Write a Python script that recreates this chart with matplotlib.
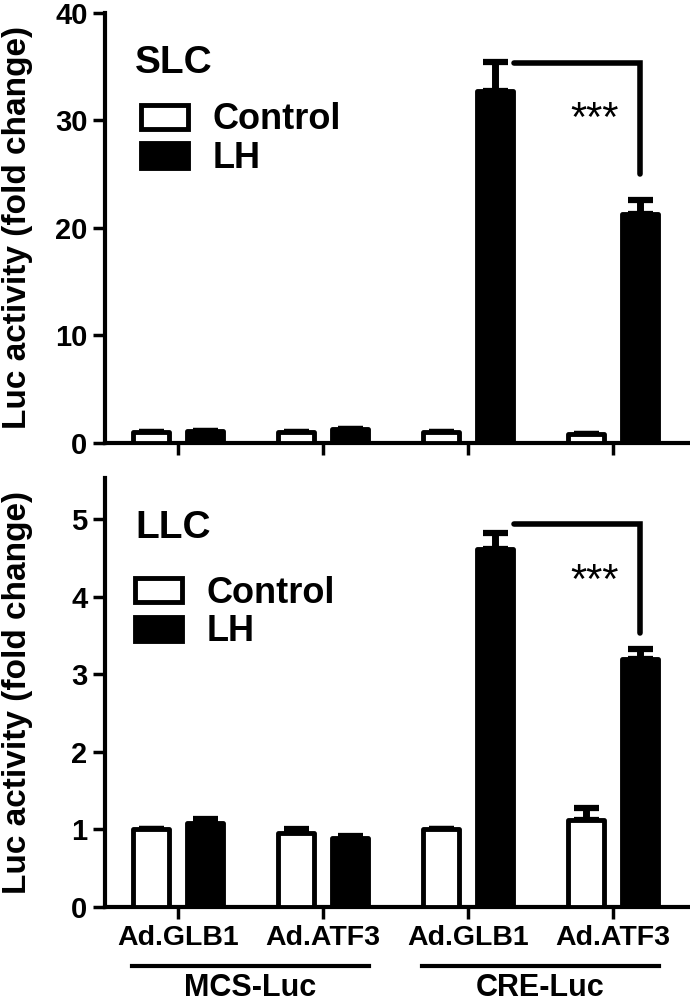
import numpy as np
import matplotlib
matplotlib.use("Agg")
import matplotlib.pyplot as plt
import matplotlib.transforms as mtransforms

plt.rcParams['font.family'] = ['Liberation Sans', 'DejaVu Sans']
plt.rcParams['font.weight'] = 'bold'

# datos
groups = ["Ad.GLB1", "Ad.ATF3", "Ad.GLB1", "Ad.ATF3"]
reporters = ["MCS-Luc", "CRE-Luc"]

slc_ctrl = [1.0, 1.0, 1.0, 0.8]
slc_ctrl_err = [0.0, 0.0, 0.0, 0.0]
slc_lh = [1.1, 1.3, 32.7, 21.3]
slc_lh_err = [0.0, 0.0, 2.7, 1.3]

llc_ctrl = [1.0, 0.96, 1.0, 1.12]
llc_ctrl_err = [0.0, 0.04, 0.0, 0.16]
llc_lh = [1.08, 0.89, 4.62, 3.2]
llc_lh_err = [0.06, 0.03, 0.2, 0.12]

# corchete de significancia: (altura horizontal, altura final) por panel
slc_bracket = [35.3, 25.0]
llc_bracket = [4.94, 3.53]

LW = 3.5
x = np.arange(len(groups))
off = 0.185
w = 0.245


def panel(ax, ctrl, ctrl_err, lh, lh_err, ymax, yticks, title, bracket, star_y, leg_y, leg_x):
    ax.bar(x - off, ctrl, w, color='white', edgecolor='black', linewidth=LW,
           joinstyle='round', label='Control', zorder=3)
    ax.bar(x + off, lh, w, color='black', edgecolor='black', linewidth=LW,
           joinstyle='round', label='LH', zorder=3)
    for xs, ys, es in [(x - off, ctrl, ctrl_err), (x + off, lh, lh_err)]:
        ax.errorbar(xs, ys, yerr=[np.zeros(len(es)), es], fmt='none', ecolor='black',
                    elinewidth=5, capsize=9, capthick=4.5, zorder=2)
    bx0 = 2 + off + w / 2 + 0.01
    bx1 = 3 + off
    ax.plot([bx0, bx1, bx1], [bracket[0], bracket[0], bracket[1]], color='black', lw=4,
            solid_capstyle='round', solid_joinstyle='miter', zorder=4)
    ax.text(2.875, star_y, "***", ha='center', va='center', fontsize=30, fontweight='normal')

    ax.set_xlim(-0.503, 3.517)
    ax.set_ylim(0, ymax)
    ax.set_yticks(yticks)
    ax.set_xticks(x)
    for s in ['top', 'right']:
        ax.spines[s].set_visible(False)
    for s in ['left', 'bottom']:
        ax.spines[s].set_linewidth(3)
    ax.tick_params(axis='both', width=2.5, length=8.6, labelsize=21, pad=4)
    ax.set_ylabel("Luc activity (fold change)", fontsize=24, fontweight='bold')
    ax.yaxis.set_label_coords(-0.124, 0.5)
    ax.text(0.0515, 0.860, title, transform=ax.transAxes, fontsize=28,
            fontweight='bold', va='baseline', ha='left')
    leg = ax.legend(loc='upper left', bbox_to_anchor=(leg_x, leg_y), frameon=False,
                    fontsize=26, handlelength=1.3, handleheight=0.66,
                    labelspacing=0.1, handletextpad=0.7, borderpad=0, borderaxespad=0)
    for t in leg.get_texts():
        t.set_fontweight('bold')


fig = plt.figure(figsize=(6.9, 10.05), dpi=100)
ax1 = fig.add_axes([0.1522, 0.5592, 0.845, 0.4279])
ax2 = fig.add_axes([0.1522, 0.0975, 0.845, 0.4269])

panel(ax1, slc_ctrl, slc_ctrl_err, slc_lh, slc_lh_err, 40, [0, 10, 20, 30, 40],
      "SLC", slc_bracket, 30.0, 0.792, 0.061)
ax1.set_xticklabels([])

panel(ax2, llc_ctrl, llc_ctrl_err, llc_lh, llc_lh_err, 5.53, [0, 1, 2, 3, 4, 5],
      "LLC", llc_bracket, 4.19, 0.772, 0.051)
ax2.set_xticklabels(groups, fontsize=20.5, fontweight='bold')

# lineas y nombres de reportero debajo del eje
trans = mtransforms.blended_transform_factory(ax2.transData, ax2.transAxes)
for i, name in enumerate(reporters):
    g0 = 2 * i
    ax2.plot([g0 - 0.32, g0 + 1.32], [-0.1375, -0.1375], color='black', lw=3,
             transform=trans, clip_on=False)
    ax2.text(g0 + 0.5, -0.2235, name, transform=trans, ha='center', va='bottom',
             fontsize=22, fontweight='bold')

fig.savefig("out.png", dpi=100)
